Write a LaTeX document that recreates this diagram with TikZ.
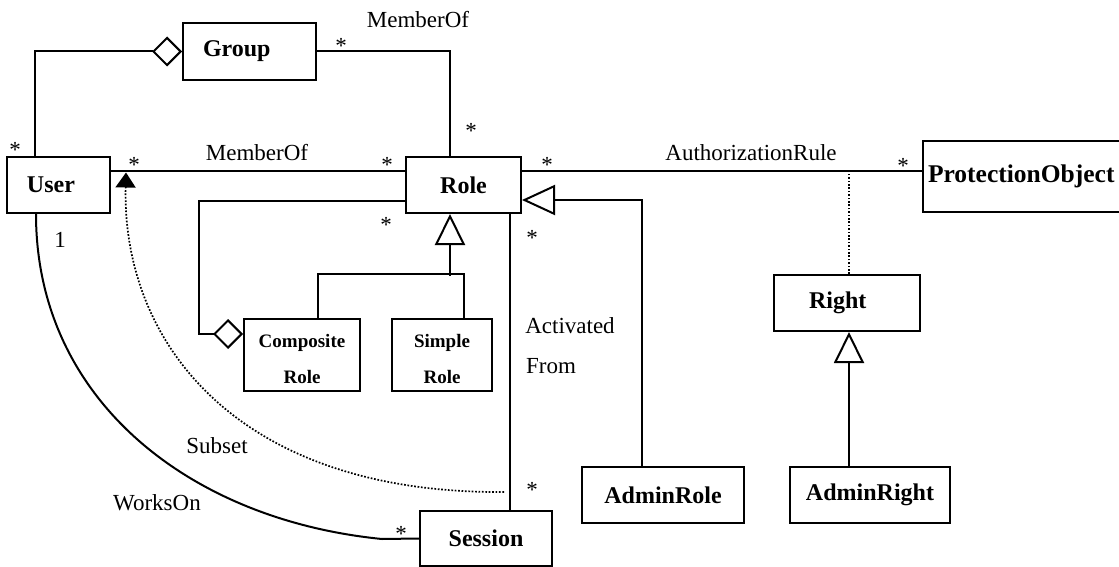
\documentclass[tikz,border=0pt]{standalone}
\usepackage{fontspec}
\setmainfont{Liberation Serif}
\usetikzlibrary{arrows.meta}
\begin{document}
\begin{tikzpicture}[x=1pt,y=-1pt,
  cls/.style={draw, line width=2pt, inner sep=0pt, font=\fontsize{24}{28}\selectfont\bfseries, align=center},
  clsl/.style={cls, align=left},
  small/.style={cls, font=\fontsize{19}{36}\selectfont\bfseries},
  lbl/.style={inner sep=0pt, font=\fontsize{23}{27}\selectfont},
  con/.style={line width=2pt},
  dot/.style={line width=1.7pt, dash pattern=on 1.7pt off 1.7pt},
  agg/.style={{Diamond[open,length=30pt,width=30pt,line width=2pt]}-},
  gen/.style={{Triangle[open,length=#1,width=30pt,line width=2pt]}-},
  gen/.default=31pt]
\useasboundingbox (0,0) rectangle (1119,567);

% classes
\node[clsl, text width=63pt, inner xsep=20pt, minimum height=56pt] (User) at (58.5,185) {User};
\node[clsl, text width=93pt, inner xsep=20pt, minimum height=57pt] (Group) at (249.5,51.5) {Group};
\node[cls, minimum width=115pt, minimum height=56pt] (Role) at (463.5,185) {Role};
\node[clsl, text width=200pt, inner xsep=5pt, minimum height=71pt, anchor=west,
      font=\fontsize{25.5}{28}\selectfont\bfseries] (PO) at (922,176.5) {ProtectionObject};
\node[clsl, text width=76pt, inner xsep=35pt, minimum height=56pt] (Right) at (847,303) {Right};
\node[small, minimum width=116pt, minimum height=72pt] (Composite) at (302,355) {\rule{0pt}{21pt}Composite\\Role};
\node[small, minimum width=100pt, minimum height=72pt] (Simple) at (442,355) {\rule{0pt}{21pt}Simple\\Role};
\node[cls, minimum width=162pt, minimum height=56pt] (AdminRole) at (663,495) {AdminRole};
\node[cls, minimum width=160pt, minimum height=56pt] (AdminRight) at (870,495) {AdminRight};
\node[cls, minimum width=132pt, minimum height=55pt] (Session) at (486,538.5) {Session};

% connectors
\draw[con, agg] (Group.west) -| ([xshift=29pt]User.north west);
\draw[con] (Group.east) -| ([xshift=-13.5pt]Role.north);
\draw[con] ([yshift=14pt]User.east) -- ([yshift=14pt]Role.west);
\draw[con, agg] ([yshift=21pt]Composite.west) -- ++(-44,0) |- ([yshift=-16pt]Role.west);
\draw[con, gen] ([xshift=-13.5pt]Role.south) -- ++(0,62);
\draw[con] ([xshift=16pt]Composite.north) -- ++(0,-44) -| ([xshift=22pt]Simple.north);
\draw[con] ([xshift=46.5pt]Role.south) -- ([xshift=24pt]Session.north);
\draw[con, gen=33pt] ([yshift=-15pt]Role.east) -| ([xshift=-21pt]AdminRole.north);
\draw[con] ([yshift=14pt]Role.east) -- ([yshift=14pt]Role.east -| PO.west);
\draw[dot] ([xshift=2pt]Right.north) -- ++(0,-104);
\draw[con, gen] ([xshift=2pt]Right.south) -- ([xshift=-21pt]AdminRight.north);
\draw[con] ([xshift=-22.5pt]User.south) .. controls (36,400) and (190,520) .. (382,539) -- (Session.west);
\coordinate (subA) at (504,492);
\coordinate (subB) at (126,172.5);
\draw[dot, -{Triangle[length=15pt,width=20pt]}] (subA) .. controls (240,494) and (122,345) .. (subB);

% labels
\node[lbl] (l1) at (418,20) {MemberOf};
\node[lbl] (l2) at (257,153) {MemberOf};
\node[lbl] (l3) at (751,153) {AuthorizationRule};
\node[lbl] (l4) at (570,326) {Activated};
\node[lbl] (l5) at (551,366) {From};
\node[lbl] (l6) at (217,446) {Subset};
\node[lbl] (l7) at (157,503) {WorksOn};
\node[lbl] (l8) at (60,240) {1};
\node[lbl] (s1) at (341,46) {*};
\node[lbl] (s2) at (471,131) {*};
\node[lbl] (s3) at (15,150) {*};
\node[lbl] (s4) at (134,165) {*};
\node[lbl] (s5) at (387,165) {*};
\node[lbl] (s6) at (547,165) {*};
\node[lbl] (s7) at (903,166) {*};
\node[lbl] (s8) at (386,225) {*};
\node[lbl] (s9) at (532,238) {*};
\node[lbl] (s10) at (532,490) {*};
\node[lbl] (s11) at (401,534) {*};
\end{tikzpicture}
\end{document}
